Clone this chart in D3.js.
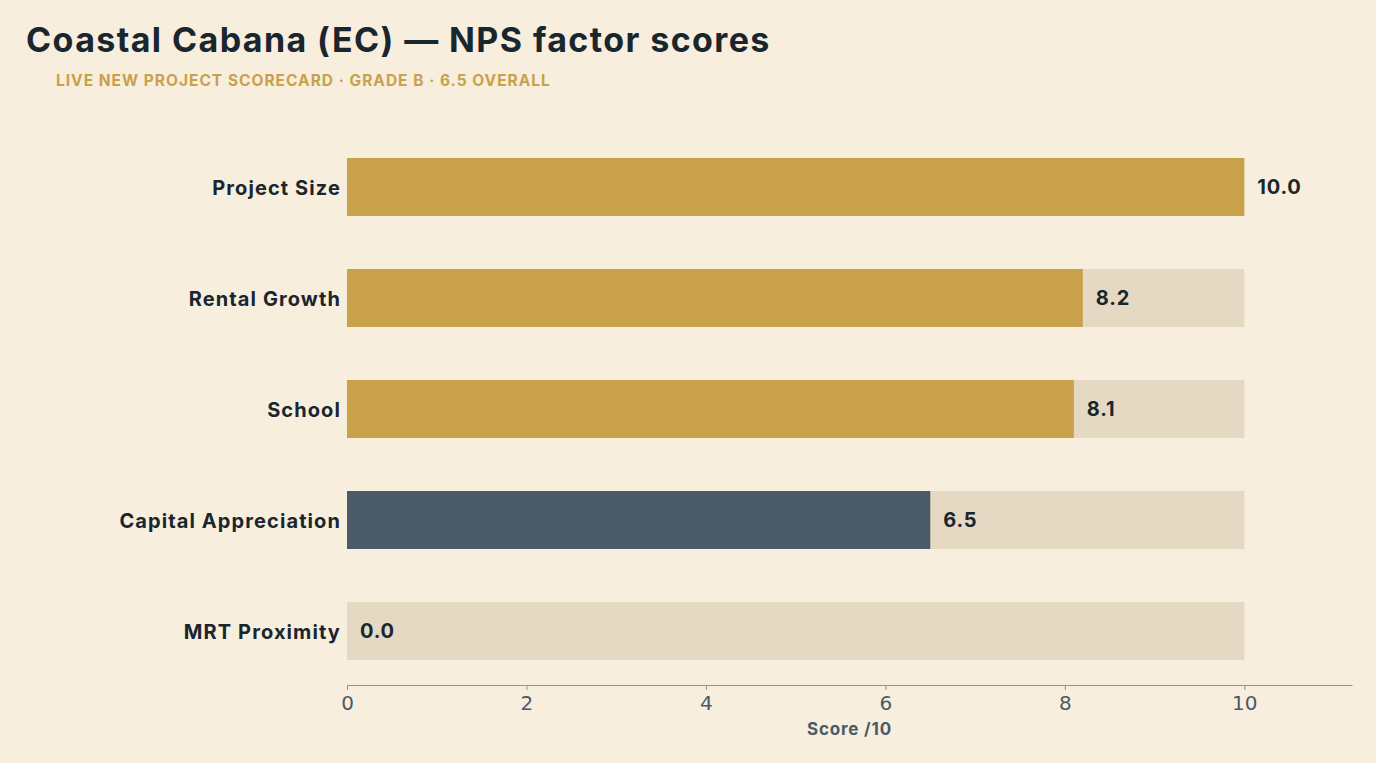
<!DOCTYPE html>
<html>
<head>
<meta charset="utf-8">
<script src="https://cdn.jsdelivr.net/npm/d3@7"></script>
<style>
  body { margin: 0; background: #f7eedd; }
  svg { display: block; }
  .title { font-family: Inter, "Open Sans", sans-serif; font-weight: 700; font-size: 34px; letter-spacing: 1.4px; fill: #1a262e; }
  .subtitle { font-family: Inter, "Open Sans", sans-serif; font-weight: 700; font-size: 15.5px; letter-spacing: 1px; fill: #c9a14a; }
  .cat { font-family: Inter, "Open Sans", sans-serif; font-weight: 700; font-size: 20px; letter-spacing: 1.1px; fill: #1a262e; }
  .val { font-family: Inter, "Open Sans", sans-serif; font-weight: 700; font-size: 20px; letter-spacing: 0.8px; fill: #1a262e; }
  .axis text { font-family: "DejaVu Sans", sans-serif; font-size: 20px; fill: #4a5a66; }
  .axis path, .axis line { stroke: #8a959c; }
  .axis-label { font-family: Inter, "Open Sans", sans-serif; font-weight: 700; font-size: 17px; letter-spacing: 0.8px; fill: #4a5a66; }
</style>
</head>
<body>
<script>
// chart data
var factors = ["Project Size", "Rental Growth", "School", "Capital Appreciation", "MRT Proximity"];
var scores = [10.0, 8.2, 8.1, 6.5, 0.0];
var xTicks = [0, 2, 4, 6, 8, 10];
var maxScore = 10;

var width = 1376, height = 763;

var svg = d3.select("body").append("svg")
    .attr("width", width)
    .attr("height", height);

svg.append("rect")
    .attr("width", width)
    .attr("height", height)
    .attr("fill", "#f7eedd");

svg.append("text")
    .attr("class", "title")
    .attr("x", 26)
    .attr("y", 52)
    .text("Coastal Cabana (EC) \u2014 NPS factor scores");

svg.append("text")
    .attr("class", "subtitle")
    .attr("x", 56)
    .attr("y", 86)
    .text("LIVE NEW PROJECT SCORECARD \u00b7 GRADE B \u00b7 6.5 OVERALL");

var data = factors.map(function(f, i) {
    return { factor: f, score: scores[i] };
});

var xScale = d3.scaleLinear()
    .domain([0, 11.2])
    .range([347, 1352]);

var yScale = d3.scaleBand()
    .domain(factors)
    .range([105, 713])
    .padding(0.4775);

// track bars
svg.selectAll(".track")
    .data(data)
    .enter()
    .append("rect")
    .attr("class", "track")
    .attr("x", xScale(0))
    .attr("y", d => yScale(d.factor))
    .attr("width", xScale(maxScore) - xScale(0))
    .attr("height", yScale.bandwidth())
    .attr("fill", "#e5d9c3");

// score bars
svg.selectAll(".bar")
    .data(data)
    .enter()
    .append("rect")
    .attr("class", "bar")
    .attr("x", xScale(0))
    .attr("y", d => yScale(d.factor))
    .attr("width", d => xScale(d.score) - xScale(0))
    .attr("height", yScale.bandwidth())
    .attr("fill", d => d.score >= 7 ? "#c9a14a" : "#4a5a66");

// value labels
svg.selectAll(".val")
    .data(data)
    .enter()
    .append("text")
    .attr("class", "val")
    .attr("x", d => xScale(d.score) + 13)
    .attr("y", d => yScale(d.factor) + yScale.bandwidth() / 2)
    .attr("dy", "0.35em")
    .text(d => d.score.toFixed(1));

// category labels
svg.selectAll(".cat")
    .data(data)
    .enter()
    .append("text")
    .attr("class", "cat")
    .attr("x", 341)
    .attr("y", d => yScale(d.factor) + yScale.bandwidth() / 2 + 1)
    .attr("dy", "0.35em")
    .attr("text-anchor", "end")
    .text(d => d.factor);

// x axis
var bottomAxis = d3.axisBottom(xScale)
    .tickValues(xTicks)
    .tickSize(5)
    .tickSizeOuter(0)
    .tickPadding(6)
    .tickFormat(d3.format("d"));

svg.append("g")
    .attr("class", "axis")
    .attr("transform", "translate(0, 685)")
    .call(bottomAxis);

svg.append("text")
    .attr("class", "axis-label")
    .attr("x", (347 + 1352) / 2)
    .attr("y", 735)
    .attr("text-anchor", "middle")
    .text("Score /10");
</script>
</body>
</html>
